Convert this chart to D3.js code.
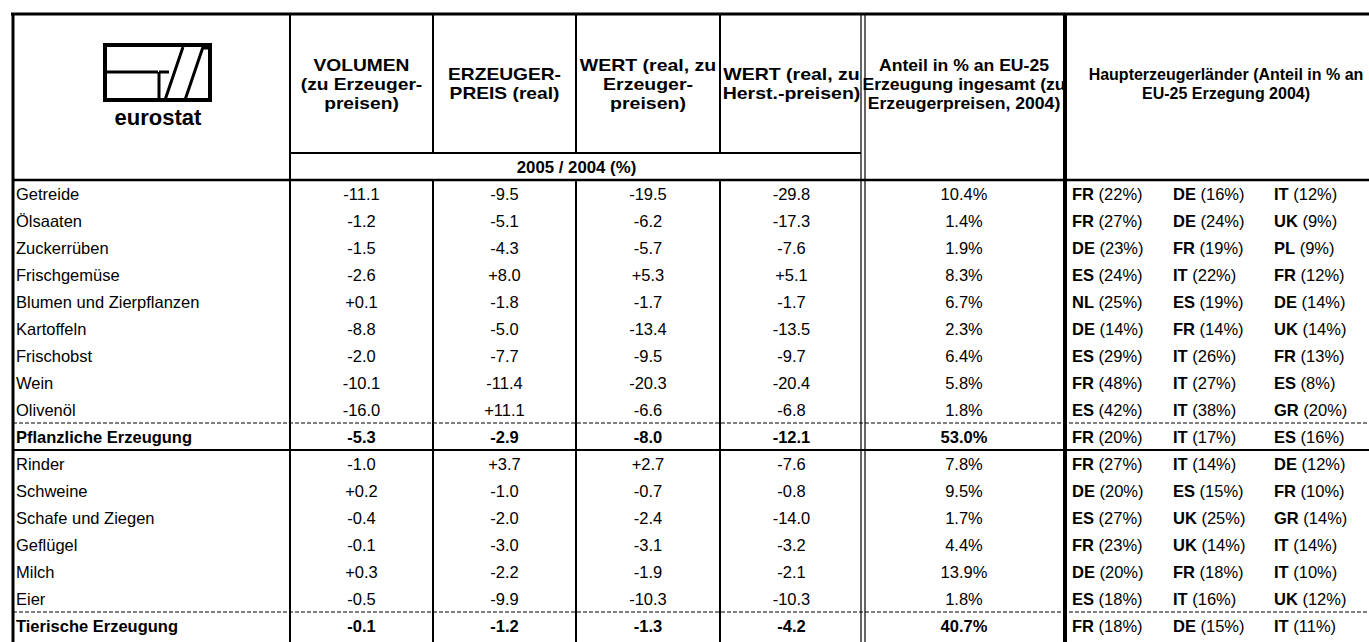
<!DOCTYPE html>
<html>
<head>
<meta charset="utf-8">
<script src="https://cdn.jsdelivr.net/npm/d3@7"></script>
<style>
  body { margin: 0; background: #fff; }
  svg text { font-family: "Liberation Sans", Arial, sans-serif; fill: #000; }
</style>
</head>
<body>
<svg width="1369" height="642"></svg>
<script>
var categories = ["Getreide", "Ölsaaten", "Zuckerrüben", "Frischgemüse", "Blumen und Zierpflanzen",
    "Kartoffeln", "Frischobst", "Wein", "Olivenöl", "Pflanzliche Erzeugung",
    "Rinder", "Schweine", "Schafe und Ziegen", "Geflügel", "Milch", "Eier", "Tierische Erzeugung"];
var totals = ["Pflanzliche Erzeugung", "Tierische Erzeugung"];

var volumen   = [-11.1, -1.2, -1.5, -2.6, 0.1, -8.8, -2.0, -10.1, -16.0, -5.3, -1.0, 0.2, -0.4, -0.1, 0.3, -0.5, -0.1];
var preis     = [-9.5, -5.1, -4.3, 8.0, -1.8, -5.0, -7.7, -11.4, 11.1, -2.9, 3.7, -1.0, -2.0, -3.0, -2.2, -9.9, -1.2];
var wertErz   = [-19.5, -6.2, -5.7, 5.3, -1.7, -13.4, -9.5, -20.3, -6.6, -8.0, 2.7, -0.7, -2.4, -3.1, -1.9, -10.3, -1.3];
var wertHerst = [-29.8, -17.3, -7.6, 5.1, -1.7, -13.5, -9.7, -20.4, -6.8, -12.1, -7.6, -0.8, -14.0, -3.2, -2.1, -10.3, -4.2];
var anteil    = [10.4, 1.4, 1.9, 8.3, 6.7, 2.3, 6.4, 5.8, 1.8, 53.0, 7.8, 9.5, 1.7, 4.4, 13.9, 1.8, 40.7];

var land1 = ["FR", "FR", "DE", "ES", "NL", "DE", "ES", "FR", "ES", "FR", "FR", "DE", "ES", "FR", "DE", "ES", "FR"];
var anteil1 = [22, 27, 23, 24, 25, 14, 29, 48, 42, 20, 27, 20, 27, 23, 20, 18, 18];
var land2 = ["DE", "DE", "FR", "IT", "ES", "FR", "IT", "IT", "IT", "IT", "IT", "ES", "UK", "UK", "FR", "IT", "DE"];
var anteil2 = [16, 24, 19, 22, 19, 14, 26, 27, 38, 17, 14, 15, 25, 14, 18, 16, 15];
var land3 = ["IT", "UK", "PL", "FR", "DE", "UK", "FR", "ES", "GR", "ES", "DE", "FR", "GR", "IT", "IT", "UK", "IT"];
var anteil3 = [12, 9, 9, 12, 14, 14, 13, 8, 20, 16, 12, 10, 14, 14, 10, 12, 11];

var headers = [
    ["VOLUMEN", "(zu Erzeuger-", "preisen)"],
    ["ERZEUGER-", "PREIS (real)"],
    ["WERT (real, zu", "Erzeuger-", "preisen)"],
    ["WERT (real, zu", "Herst.-preisen)"],
    ["Anteil in % an EU-25", "Erzeugung ingesamt (zu", "Erzeugerpreisen, 2004)"],
    ["Haupterzeugerländer (Anteil in % an", "EU-25 Erzegung 2004)"]
];
var subHeader = "2005 / 2004 (%)";

var svg = d3.select("svg"),
    width = +svg.attr("width"),
    height = +svg.attr("height");

var loc = d3.formatLocale({decimal: ".", thousands: ",", grouping: [3], currency: ["", ""], minus: "-"});
var fmt = loc.format("+.1f"),
    fmtPct = loc.format(".1f");

// column edges
var colKeys = ["label", "vol", "preis", "werte", "werth", "anteil", "land", "end"];
var colX = d3.scaleOrdinal().domain(colKeys).range([13, 290, 433, 576, 720, 863, 1065, 1400]);

var topY = 14, subTop = 153, headBottom = 180, rowH = 27;
var y = d3.scaleBand()
    .domain(categories)
    .range([headBottom, headBottom + categories.length * rowH]);

var landX = d3.scaleOrdinal().domain([0, 1, 2]).range([1072, 1173, 1274]);

function mid(a, b) { return (colX(a) + colX(b)) / 2; }

// ---- header ----
var hcenter = [mid("vol", "preis"), mid("preis", "werte"), mid("werte", "werth"), mid("werth", "anteil"), mid("anteil", "land"), 1226];
var hstretch = [1.2, 1.2, 1.22, 1.22, 1.1, 1.0];

var hg = svg.append("g").attr("class", "header");
headers.forEach(function (lines, i) {
    var lh = 19;
    var y0 = 84 - (lines.length - 1) * lh / 2;
    hg.append("text")
        .attr("transform", "translate(" + hcenter[i] + ",0) scale(" + hstretch[i] + ",1)")
        .attr("text-anchor", "middle")
        .attr("font-weight", "bold")
        .attr("font-size", 16)
        .selectAll("tspan")
        .data(lines)
        .enter().append("tspan")
        .attr("x", 0)
        .attr("y", function (d, j) { return y0 + j * lh; })
        .attr("dy", "0.35em")
        .text(function (d) { return d; });
});

hg.append("text")
    .attr("transform", "translate(" + mid("vol", "anteil") + ",167) scale(1.05,1)")
    .attr("dy", "0.35em")
    .attr("text-anchor", "middle")
    .attr("font-weight", "bold")
    .attr("font-size", 16)
    .text(subHeader);

// logo (E / S mark in a box)
var logo = svg.append("g").attr("class", "logo").attr("transform", "translate(103,43)");
logo.append("rect").attr("x", 2).attr("y", 2).attr("width", 105).attr("height", 55)
    .attr("fill", "none").attr("stroke", "#000").attr("stroke-width", 4);
logo.append("path")
    .attr("d", "M4,29H55M56,29V57M62,57L80,4M82,57L100,4M100,5H105M56,29H66")
    .attr("fill", "none").attr("stroke", "#000").attr("stroke-width", 3);
logo.append("text")
    .attr("x", 55).attr("y", 82)
    .attr("text-anchor", "middle")
    .attr("font-weight", "bold")
    .attr("font-size", 22)
    .text("eurostat");

// ---- body ----
var isTotal = function (c) { return totals.indexOf(c) >= 0; };
var rows = svg.append("g").attr("class", "rows")
    .selectAll("g")
    .data(categories)
    .enter().append("g")
    .attr("transform", function (d) { return "translate(0," + (y(d) + y.bandwidth() / 2 + 1) + ")"; })
    .attr("font-size", 16.5)
    .attr("font-weight", function (d) { return isTotal(d) ? "bold" : null; });

rows.append("text")
    .attr("x", 16)
    .attr("dy", "0.35em")
    .text(function (d) { return d; });

var numCols = [["vol", "preis", volumen], ["preis", "werte", preis], ["werte", "werth", wertErz], ["werth", "anteil", wertHerst]];
numCols.forEach(function (c) {
    rows.append("text")
        .attr("x", mid(c[0], c[1]))
        .attr("dy", "0.35em")
        .attr("text-anchor", "middle")
        .text(function (d, i) { return fmt(c[2][i]); });
});

rows.append("text")
    .attr("x", mid("anteil", "land"))
    .attr("dy", "0.35em")
    .attr("text-anchor", "middle")
    .text(function (d, i) { return fmtPct(anteil[i]) + "%"; });

[[land1, anteil1], [land2, anteil2], [land3, anteil3]].forEach(function (l, k) {
    var t = rows.append("text")
        .attr("x", landX(k))
        .attr("dy", "0.35em")
        .attr("font-weight", "normal");
    t.append("tspan").attr("font-weight", "bold").text(function (d, i) { return l[0][i]; });
    t.append("tspan").text(function (d, i) { return " (" + l[1][i] + "%)"; });
});

// ---- grid lines ----
var lines = svg.append("g").attr("class", "grid").attr("stroke", "#000").attr("fill", "none");
var bottom = height + 5;

// outer frame
lines.append("line").attr("x1", 11).attr("x2", width).attr("y1", topY).attr("y2", topY).attr("stroke-width", 3);
lines.append("line").attr("x1", 13).attr("x2", 13).attr("y1", topY).attr("y2", bottom).attr("stroke-width", 3);

// label column edge
lines.append("line").attr("x1", colX("vol")).attr("x2", colX("vol")).attr("y1", topY).attr("y2", bottom).attr("stroke-width", 2);

// inner data verticals, broken by the subheader row
["preis", "werte", "werth"].forEach(function (k) {
    lines.append("line").attr("x1", colX(k)).attr("x2", colX(k)).attr("y1", topY).attr("y2", subTop).attr("stroke-width", 2);
    lines.append("line").attr("x1", colX(k)).attr("x2", colX(k)).attr("y1", headBottom).attr("y2", bottom).attr("stroke-width", 2);
});

// double line before share column
[-2, 2].forEach(function (o) {
    lines.append("line").attr("x1", colX("anteil") + o).attr("x2", colX("anteil") + o)
        .attr("y1", topY).attr("y2", bottom).attr("stroke-width", 1.2);
});

// thick line before countries
lines.append("line").attr("x1", colX("land")).attr("x2", colX("land")).attr("y1", topY).attr("y2", bottom).attr("stroke-width", 4);

// subheader line and header bottom
lines.append("line").attr("x1", colX("vol")).attr("x2", colX("anteil") - 2).attr("y1", subTop).attr("y2", subTop).attr("stroke-width", 2);
lines.append("line").attr("x1", 13).attr("x2", width).attr("y1", headBottom).attr("y2", headBottom).attr("stroke-width", 2.5);

// dashed lines above totals, solid line after plant total
totals.forEach(function (t) {
    lines.append("line").attr("x1", 13).attr("x2", width).attr("y1", y(t)).attr("y2", y(t))
        .attr("stroke-width", 1.2).attr("stroke-dasharray", "4,2");
});
var after = y("Rinder");
lines.append("line").attr("x1", 13).attr("x2", width).attr("y1", after).attr("y2", after).attr("stroke-width", 2);
</script>
</body>
</html>
